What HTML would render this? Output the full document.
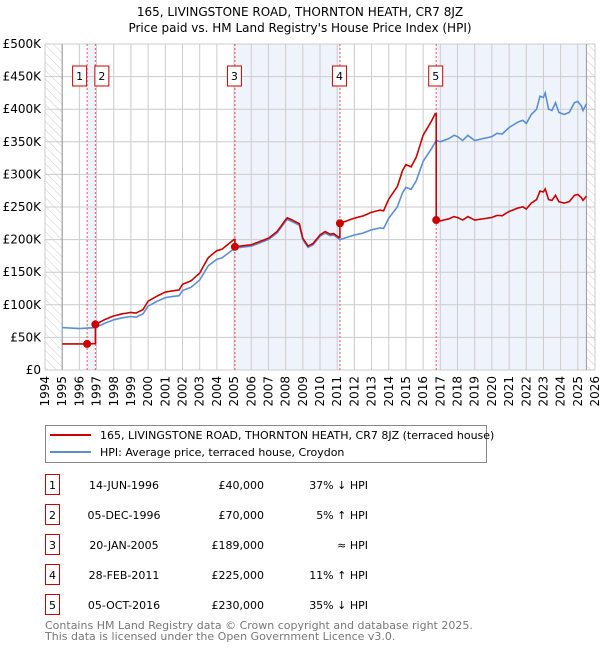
<!DOCTYPE html>
<html><head><meta charset="utf-8"><style>
body{margin:0;background:#fff;font-family:"DejaVu Sans","Liberation Sans",sans-serif;}
svg text{font-family:"DejaVu Sans","Liberation Sans",sans-serif;}
</style></head><body>
<svg id="c" width="600" height="650" xmlns="http://www.w3.org/2000/svg">
<defs><pattern id="hatch" width="6" height="6" patternUnits="userSpaceOnUse" patternTransform="rotate(-45)"><line x1="0" y1="0" x2="0" y2="6" stroke="#ccc" stroke-width="1"/></pattern></defs>
<text x="300" y="16" text-anchor="middle" font-size="12">165, LIVINGSTONE ROAD, THORNTON HEATH, CR7 8JZ</text>
<text x="300" y="32" text-anchor="middle" font-size="12">Price paid vs. HM Land Registry's House Price Index (HPI)</text>
<g id="plot"></g>
<g>
<rect x="45.5" y="425.5" width="441" height="37" fill="#fff" stroke="#888"/>
<line x1="50" y1="435" x2="91" y2="435" stroke="#cc0000" stroke-width="2"/>
<text x="100" y="439" font-size="11">165, LIVINGSTONE ROAD, THORNTON HEATH, CR7 8JZ (terraced house)</text>
<line x1="50" y1="452" x2="91" y2="452" stroke="#5b8fd4" stroke-width="2"/>
<text x="100" y="456" font-size="11">HPI: Average price, terraced house, Croydon</text>
</g>
<g id="table"></g>
<text x="45" y="629" font-size="11" fill="#777">Contains HM Land Registry data © Crown copyright and database right 2025.</text>
<text x="45" y="640" font-size="11" fill="#777">This data is licensed under the Open Government Licence v3.0.</text>
</svg>
<script>
const hpiYears=[1995,1996,1996.93,1997.5,1998,1998.5,1999,1999.3,1999.7,2000,2000.5,2001,2001.5,2001.8,2002,2002.5,2003,2003.5,2004,2004.3,2004.7,2005.05,2006,2006.5,2007,2007.5,2008,2008.1,2008.5,2008.8,2009,2009.3,2009.6,2010,2010.3,2010.6,2010.8,2011.16,2012,2012.5,2013,2013.5,2013.7,2014,2014.5,2014.8,2015,2015.3,2015.6,2016,2016.5,2016.76,2017,2017.5,2017.8,2018,2018.3,2018.6,2019,2019.5,2020,2020.3,2020.6,2021,2021.5,2021.8,2022,2022.3,2022.6,2022.8,2023,2023.1,2023.3,2023.5,2023.7,2023.9,2024.2,2024.5,2024.8,2025,2025.2,2025.3,2025.5];
const hpiValues=[65,63.5,65,72,77,80,82,81,86,98,105,111,113,114,122,127,138,160,170,172,180,187,190,195,200,210,228,231,226,222,200,188,192,205,210,206,207,200,207,210,215,218,217,233,250,272,280,277,290,320,340,352,350,355,360,358,352,360,352,355,358,363,362,372,380,383,378,392,400,420,418,425,400,398,410,395,392,395,410,412,405,398,408];
const saleYears=[1996.45,1996.93,2005.05,2011.16,2016.76];
const salePrices=[40,70,189,225,230];
const saleDates=["14-JUN-1996","05-DEC-1996","20-JAN-2005","28-FEB-2011","05-OCT-2016"];
const salePriceLabels=["£40,000","£70,000","£189,000","£225,000","£230,000"];
const saleHpiLabels=["37% ↓ HPI","5% ↑ HPI","≈ HPI","11% ↑ HPI","35% ↓ HPI"];
const yTicks=[0,50,100,150,200,250,300,350,400,450,500];
const yTickLabels=["£0","£50K","£100K","£150K","£200K","£250K","£300K","£350K","£400K","£450K","£500K"];
const xStart=1994,xEnd=2026,dataStart=1995,dataEnd=2025.5;
const L=45,R=595,T=44,B=370;
const X=t=>L+(t-xStart)/(xEnd-xStart)*(R-L);
const Y=v=>B-v/500*(B-T);
const NS="http://www.w3.org/2000/svg";
function mk(tag,a,p){const e=document.createElementNS(NS,tag);for(const k in a)e.setAttribute(k,a[k]);p.appendChild(e);return e;}
const g=document.getElementById('plot');
function hpiAt(t){if(t<=hpiYears[0])return hpiValues[0];for(let i=1;i<hpiYears.length;i++){if(t<=hpiYears[i]){const f=(t-hpiYears[i-1])/(hpiYears[i]-hpiYears[i-1]);return hpiValues[i-1]+f*(hpiValues[i]-hpiValues[i-1]);}}return hpiValues[hpiValues.length-1];}
let h1=mk('rect',{x:L,y:T,width:X(dataStart)-L,height:B-T,fill:'url(#hatch)'},g);


let h2=mk('rect',{x:X(dataEnd),y:T,width:R-X(dataEnd),height:B-T,fill:'url(#hatch)'},g);


[[0,1],[2,3],[4,null]].forEach(([a,b])=>{const x0=X(saleYears[a]),x1=b===null?X(dataEnd):X(saleYears[b]);
const r=mk('rect',{x:x0,y:T,width:x1-x0,height:B-T,fill:'#eef3fc'},g);

});
for(let yr=xStart;yr<=xEnd;yr++){const l=mk('line',{x1:X(yr),x2:X(yr),y1:T,y2:B,stroke:'#ccc','stroke-width':1},g);


const tx=mk('text',{x:0,y:0,'font-size':12,'text-anchor':'end',transform:`translate(${X(yr)+4},${B+6}) rotate(-90)`},g);tx.textContent=yr;

}
yTicks.forEach((v,i)=>{const l=mk('line',{x1:L,x2:R,y1:Y(v),y2:Y(v),stroke:'#ccc','stroke-width':1},g);


const tx=mk('text',{x:L-4,y:Y(v)+4,'font-size':12,'text-anchor':'end'},g);tx.textContent=yTickLabels[i];

});
[dataStart,dataEnd].forEach(t=>{const l=mk('line',{x1:X(t),x2:X(t),y1:T,y2:B,stroke:'#999'},g);

});
saleYears.forEach((t,i)=>{const l=mk('line',{x1:X(t),x2:X(t),y1:T,y2:B,stroke:'#e55','stroke-width':1,'stroke-dasharray':'2,2'},g);


const bx=X(t)-(i==0?14:i==1?0:7);
const r=mk('rect',{x:bx-0.5,y:T+22,width:14,height:20,fill:'#fff',stroke:'#c00'},g);


const tx=mk('text',{x:bx+6.5,y:T+36,'font-size':11,'text-anchor':'middle'},g);tx.textContent=i+1;

});
let d='';hpiYears.forEach((t,i)=>{d+=(i?'L':'M')+X(t).toFixed(1)+','+Y(hpiValues[i]).toFixed(1);});
const hp=mk('path',{d,fill:'none',stroke:'#5b8fd4','stroke-width':1.6},g);


const ts=[];for(let t=dataStart;t<=dataEnd+1e-6;t+=0.1)ts.push(+t.toFixed(2));
hpiYears.forEach(t=>ts.push(t));saleYears.forEach(t=>ts.push(t));ts.sort((a,b)=>a-b);
let pts=[],prev=null;
ts.forEach(t=>{let k=-1;for(let i=0;i<saleYears.length;i++)if(t>=saleYears[i])k=i;
let v;if(k<0)v=salePrices[0];else v=salePrices[k]*hpiAt(t)/hpiAt(saleYears[k]);
if(k>=0&&t===saleYears[k]&&prev!==null)pts.push([t,prev]);
pts.push([t,v]);prev=v;});
d='';pts.forEach((p,i)=>{d+=(i?'L':'M')+X(p[0]).toFixed(1)+','+Y(p[1]).toFixed(1);});
const pp=mk('path',{d,fill:'none',stroke:'#cc0000','stroke-width':1.6},g);


saleYears.forEach((t,i)=>{const c=mk('circle',{cx:X(t),cy:Y(salePrices[i]),r:4,fill:'#cc0000'},g);

});
const tb=document.getElementById('table');
saleYears.forEach((t,i)=>{const y=[488,518,548,578,608][i];
const r=mk('rect',{x:45.5,y:y-13.5,width:14,height:20,fill:'#fff',stroke:'#c00'},tb);


const cells=[[52.5,'middle',i+1],[124,'middle',saleDates[i]],[264,'end',salePriceLabels[i]],[368,'end',saleHpiLabels[i]]];
cells.forEach(([x,a,s])=>{const tx=mk('text',{x,y:y+1,'font-size':11,'text-anchor':a},tb);tx.textContent=s;

});});
</script>
</body></html>
